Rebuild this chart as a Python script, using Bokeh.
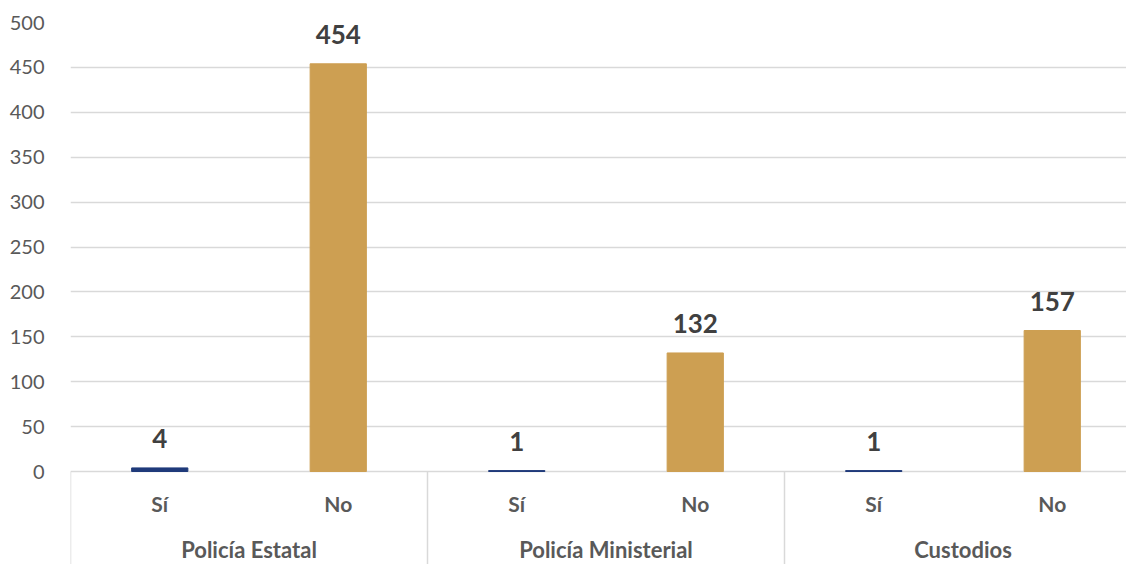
from bokeh.plotting import figure
from bokeh.models import ColumnDataSource, FixedTicker, Range1d
from bokeh.core.properties import value
from bokeh.embed import file_html
from bokeh.resources import INLINE

groups = ["Policía Estatal", "Policía Ministerial", "Custodios"]
answers = ["Sí", "No"]
values = [4, 454, 1, 132, 1, 157]
colors_by_answer = {"Sí": "#1F3A7A", "No": "#CD9F52"}
y_ticks = list(range(0, 501, 50))

FONT = value("Lato")
GRID = "#D9D9D9"

W, H = 1126, 564
LEFT, TOP = 70, 22
# layout: pixel mapping
px_per_unit = 449 / 500
y_bottom = -(H - 471) / px_per_unit
sub_px = 178.5
x_end = (W - LEFT) / sub_px

xs, tops, cols, labs = [], [], [], []
i = 0
for g in groups:
    for a in answers:
        xs.append(i + 0.5)
        tops.append(values[i])
        cols.append(colors_by_answer[a])
        labs.append(str(values[i]))
        i += 1

src = ColumnDataSource(dict(x=xs, top=tops, color=cols, label=labs,
                            ans=[a for g in groups for a in answers]))

p = figure(width=W, height=H, output_backend="svg", toolbar_location=None,
           x_range=Range1d(0, x_end), y_range=Range1d(y_bottom, 500),
           min_border_left=LEFT, min_border_right=0, min_border_top=TOP, min_border_bottom=0)

p.vbar(x="x", top="top", width=0.315, color="color", source=src)

p.text(x="x", y="top", text="label", source=src, text_font=FONT, text_font_style="bold",
       text_font_size="26px", text_color="#404040", text_align="center",
       text_baseline="alphabetic", y_offset=-29)

# category labels
sub_y = -(503 - 471) / px_per_unit
grp_y = -(549 - 471) / px_per_unit
p.text(x="x", y=sub_y, text="ans", source=src, text_font=FONT,
       text_font_style="bold", text_font_size="21px", text_color="#595959",
       text_align="center", text_baseline="middle")
n_sub = len(answers)
p.text(x=[k * n_sub + n_sub / 2 for k in range(len(groups))], y=[grp_y] * len(groups),
       text=groups, text_font=FONT, text_font_style="bold", text_font_size="22px",
       text_color="#595959", text_align="center", text_baseline="middle")

# separators
sep_x = [k * n_sub for k in range(len(groups) + 1)]
p.segment(x0=sep_x, y0=[0] * len(sep_x), x1=sep_x, y1=[y_bottom] * len(sep_x),
          line_color=GRID, line_width=1.5)

p.xaxis.visible = False
p.xgrid.visible = False
p.ygrid.grid_line_color = GRID
p.ygrid.grid_line_width = 1.5
p.yaxis.ticker = FixedTicker(ticks=y_ticks)
p.yaxis.axis_line_color = None
p.yaxis.major_tick_line_color = None
p.yaxis.minor_tick_line_color = None
p.yaxis.major_label_text_font = "Lato"
p.yaxis.major_label_text_font_size = "20px"
p.yaxis.major_label_text_color = "#595959"
p.yaxis.major_label_standoff = 20
p.outline_line_color = None
p.background_fill_color = "white"
p.border_fill_color = "white"

open("out.html", "w").write(file_html(p, INLINE))
